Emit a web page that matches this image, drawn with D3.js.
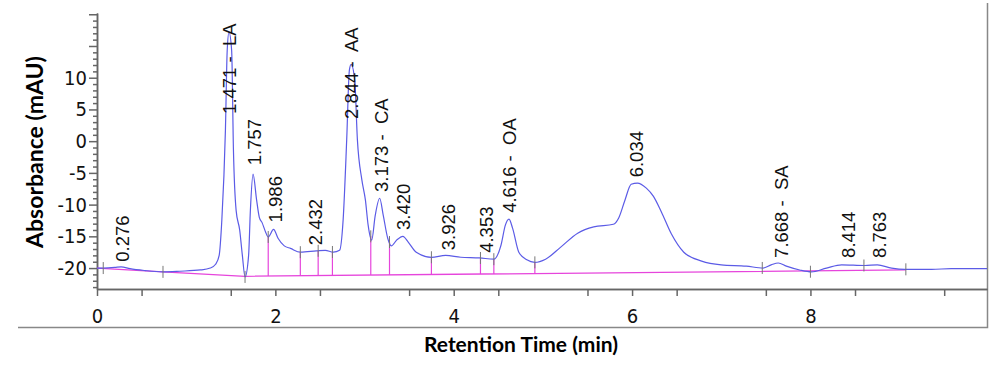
<html>
<head>
  <style>
  body {
    margin: 0;
    background: #fff;
  }
  .axis path, .axis line {
    stroke: #666;
    stroke-width: 1.5px;
  }
  .axis text {
    font-family: "Liberation Sans Narrow", "Arial Narrow", "DejaVu Sans Condensed", sans-serif;
    font-size: 20px;
    fill: #111;
  }
  .title {
    font-family: Lato, "Open Sans", sans-serif;
    font-weight: bold;
    fill: #000;
  }
  .peak {
    font-family: "Liberation Sans", Arial, sans-serif;
    font-size: 18.5px;
    fill: #111;
  }
  </style>
</head>
<body>
<div id="chart"></div>
<script src="https://d3js.org/d3.v7.min.js"></script>
<script>

// chromatogram trace (min, mAU)
var traceTime = [0, 0.07, 0.20, 0.27, 0.37, 0.54, 0.74, 0.93, 1.16, 1.27, 1.33, 1.37, 1.40, 1.44, 1.46, 1.48, 1.51, 1.53, 1.56, 1.60, 1.63, 1.66,
  1.70, 1.72, 1.75, 1.79, 1.82, 1.85, 1.89, 1.92, 1.98, 2.03, 2.10, 2.17, 2.28, 2.46, 2.56, 2.65,
  2.72, 2.76, 2.80, 2.83, 2.85, 2.89, 2.92, 2.97, 3.01, 3.04, 3.08, 3.12, 3.17, 3.21, 3.26, 3.30, 3.36, 3.43, 3.49, 3.58,
  3.75, 3.91, 4.08, 4.29, 4.45, 4.53, 4.58, 4.62, 4.66, 4.73, 4.82, 4.91, 5.03, 5.20, 5.39, 5.57, 5.79, 5.85, 5.92, 5.99,
  6.06, 6.16, 6.24, 6.33, 6.44, 6.58, 6.78, 7.00, 7.28, 7.47, 7.56, 7.64, 7.73, 7.88, 8.01, 8.18, 8.35, 8.61, 8.75, 8.91,
  9.06, 9.36, 9.58, 9.98];
var traceAbs = [-20.0, -20.0, -19.9, -19.8, -20.1, -20.4, -20.6, -20.5, -20.3, -20.0, -19.4, -18.0, -12.4, 1.7, 14.3, 17.2, 14.3, -1.4, -10.9, -14.0, -18.0, -21.4,
  -18.0, -10.9, -5.2, -9.3, -12.0, -12.8, -14.3, -15.1, -13.9, -15.3, -16.5, -16.9, -17.5, -17.3, -17.2, -17.5,
  -17.2, -12.4, 0.2, 11.2, 12.1, 9.6, 0.2, -6.1, -9.3, -13.2, -15.6, -11.7, -9.0, -11.7, -15.3, -16.5, -15.6, -15.0, -15.9, -17.5,
  -18.3, -18.0, -18.3, -18.4, -18.6, -16.4, -13.2, -12.3, -13.7, -17.5, -18.7, -19.1, -18.6, -16.7, -14.5, -13.5, -13.1, -12.1, -9.3, -6.8,
  -6.6, -7.4, -8.7, -11.2, -14.6, -17.5, -18.9, -19.5, -19.7, -20.0, -19.5, -19.2, -19.7, -20.3, -20.6, -20.0, -19.5, -19.6, -19.5, -20.0,
  -20.2, -20.2, -20.1, -20.1];

// integration baseline
var baseTime = [0, 0.74, 1.66, 9.07];
var baseAbs = [-20.0, -20.6, -21.3, -20.3];

// peak start/end markers and drop lines
var markTimes = [0.07, 0.74, 1.66, 1.92, 2.28, 2.48, 2.64, 3.07, 3.28, 3.75, 4.30, 4.45, 4.91, 7.46, 8.0, 8.6, 9.07];
var dropTimes = [1.92, 2.28, 2.48, 2.64, 3.07, 3.28, 3.75, 4.30, 4.45, 4.91];

// peak labels
var peakTime = [0.276, 1.471, 1.757, 1.986, 2.432, 2.844, 3.173, 3.420, 3.926, 4.353, 4.616, 6.034, 7.668, 8.414, 8.763];
var peakName = ["0.276", "1.471 -  LA", "1.757", "1.986", "2.432", "2.844 -  AA", "3.173 -  CA", "3.420", "3.926", "4.353", "4.616 -  OA", "6.034", "7.668 -  SA", "8.414", "8.763"];
var labelAbs = [-19.0, 4.3, -3.8, -12.8, -16.4, 3.5, -8.0, -14.0, -17.2, -17.6, -11.3, -5.7, -18.4, -18.4, -18.4];

var xMajor = [0, 2, 4, 6, 8];
var yMajor = [-20, -15, -10, -5, 0, 5, 10];

var svg = d3.select("#chart")
  .append("svg")
    .attr("width", 1000)
    .attr("height", 367);

var x = d3.scaleLinear().domain([0, 9.98]).range([97, 987]);
var y = d3.scaleLinear().domain([-23.3, 20.2]).range([289, 13]);

// outer frame (bottom + right)
svg.append("path")
  .attr("d", "M18,327.5H987.5V3")
  .attr("fill", "none")
  .attr("stroke", "#888")
  .attr("stroke-width", 1.5);

// axes
svg.append("g")
  .attr("class", "axis")
  .attr("transform", "translate(0,289)")
  .call(d3.axisBottom(x).tickValues(d3.range(0.5, 10, 1)).tickSize(7).tickSizeOuter(0).tickFormat(""));
svg.append("g")
  .attr("class", "axis")
  .attr("transform", "translate(0,289)")
  .call(d3.axisBottom(x).tickValues(xMajor).tickSize(7).tickSizeOuter(0).tickPadding(13).tickFormat(d3.format("d")));

svg.append("g")
  .attr("class", "axis")
  .attr("transform", "translate(97,0)")
  .call(d3.axisLeft(y).tickValues(d3.range(-23, 21).filter(function(d){ return d % 5 != 0; })).tickSize(4).tickSizeOuter(0).tickFormat(""));
svg.append("g")
  .attr("class", "axis")
  .attr("transform", "translate(97,0)")
  .call(d3.axisLeft(y).tickValues(yMajor.concat([15, 20])).tickSize(8).tickSizeOuter(0).tickPadding(2)
    .tickFormat(function(d){ return d > 10 ? "" : d; }));

// titles
svg.append("text")
  .attr("class", "title")
  .attr("x", 521).attr("y", 352)
  .attr("text-anchor", "middle")
  .style("font-size", "21px")
  .text("Retention Time (min)");
svg.append("text")
  .attr("class", "title")
  .attr("transform", "translate(43,152) rotate(-90)")
  .attr("text-anchor", "middle")
  .style("font-size", "23px")
  .text("Absorbance (mAU)");

// helpers
var traceAt = d3.scaleLinear().domain(traceTime).range(traceAbs);
var baseAt = d3.scaleLinear().domain(baseTime).range(baseAbs);

// baseline
svg.append("path")
  .datum(baseTime.map(function(t, i){ return [t, baseAbs[i]]; }))
  .attr("fill", "none")
  .attr("stroke", "#e645dc")
  .attr("stroke-width", 1.3)
  .attr("d", d3.line().x(function(d){ return x(d[0]); }).y(function(d){ return y(d[1]); }));

// drop lines
svg.selectAll(".drop")
  .data(dropTimes)
  .enter().append("line")
    .attr("class", "drop")
    .attr("x1", function(d){ return x(d); })
    .attr("x2", function(d){ return x(d); })
    .attr("y1", function(d){ return y(traceAt(d)); })
    .attr("y2", function(d){ return y(baseAt(d)); })
    .attr("stroke", "#e645dc")
    .attr("stroke-width", 1.2);

// trace
svg.append("path")
  .datum(traceTime.map(function(t, i){ return [t, traceAbs[i]]; }))
  .attr("fill", "none")
  .attr("stroke", "#5b5be6")
  .attr("stroke-width", 1.2)
  .attr("d", d3.line().curve(d3.curveMonotoneX).x(function(d){ return x(d[0]); }).y(function(d){ return y(d[1]); }));

// peak markers
svg.selectAll(".mark")
  .data(markTimes)
  .enter().append("line")
    .attr("class", "mark")
    .attr("x1", function(d){ return x(d); })
    .attr("x2", function(d){ return x(d); })
    .attr("y1", function(d){ return y(traceAt(d)) - 6; })
    .attr("y2", function(d){ return y(traceAt(d)) + 6; })
    .attr("stroke", "#777")
    .attr("stroke-width", 1);

// peak labels
svg.selectAll(".peak")
  .data(peakTime)
  .enter().append("text")
    .attr("class", "peak")
    .attr("transform", function(d, i){ return "translate(" + (x(d) + 1) + "," + y(labelAbs[i]) + ") rotate(-90)"; })
    .attr("dy", "0.36em")
    .style("white-space", "pre")
    .text(function(d, i){ return peakName[i]; });

</script>
</body>
</html>
